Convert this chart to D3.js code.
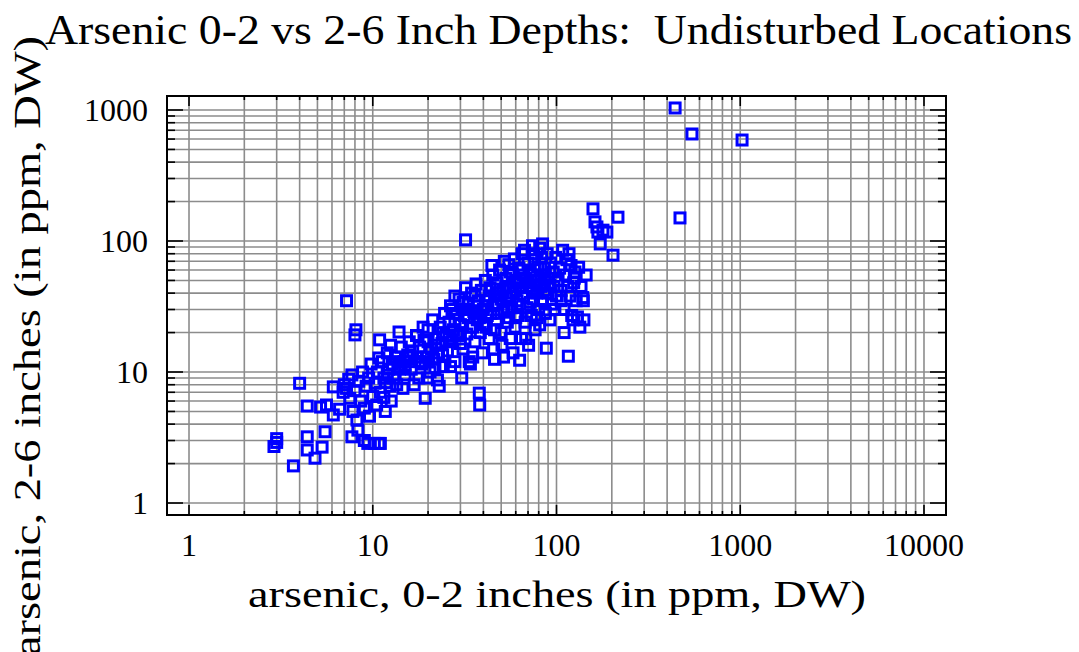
<!DOCTYPE html>
<html>
<head>
<meta charset="utf-8">
<script src="https://cdn.jsdelivr.net/npm/d3@7"></script>
<style>
  body { margin: 0; background: #fff; }
  text { font-family: "Times New Roman", "Liberation Serif", serif; }
</style>
</head>
<body>
<div id="chart"></div>
<script>
// arsenic pairs, 0-2 inch depth (x) vs 2-6 inch depth (y), ppm DW
var depth02 = [
  2.9, 3.0, 3.0, 3.7, 4.0, 4.4, 4.4, 4.4, 4.85, 5.3, 5.5, 5.2, 5.6, 6.1, 6.1, 7.7, 7.2, 8.0, 8.1,
  6.6, 6.9, 7.0, 7.2, 7.4, 7.5, 7.7, 7.8, 8.0, 8.2, 8.3, 8.4, 8.6, 8.8, 9.0, 9.0, 9.2, 9.4, 9.5, 9.6, 9.8, 10.0, 10.2, 10.3, 10.5, 10.8, 11.0, 10.6, 10.9,
  11.0, 11.3, 11.5, 11.7, 12.0, 12.2, 12.4, 12.6, 12.8, 13.0, 13.3, 13.5, 13.9, 14.0, 14.3, 14.6, 14.8, 15.0, 11.8, 12.5, 13.7, 10.8, 11.5,
  15.5, 15.8, 16.2, 16.5, 17.0, 17.3, 17.8, 18.0, 18.5, 19.0, 19.3, 19.6, 20.0, 20.5, 20.8, 21.2, 21.5, 22.0, 22.5, 22.8, 23.0, 23.3, 23.8, 24.2, 24.6, 25.0, 16.8, 18.8, 20.2, 21.8, 24.0, 17.5, 19.8,
  25.5, 26.0, 26.5, 27.0, 27.5, 28.0, 28.5, 29.0, 29.5, 30.0, 30.5, 31.0, 31.5, 32.0, 32.0, 32.5, 33.0, 33.5, 34.0, 34.5, 35.0, 35.5, 36.0, 36.5, 37.0, 37.5, 38.0, 38.2, 38.5, 39.0, 39.5, 40.0, 28.0, 30.0, 34.0, 36.0, 26.5, 32.0, 38.0,
  41, 41.5, 42, 43, 43.5, 44, 45, 45.5, 46, 47, 47.5, 48, 49, 50, 50.5, 51, 51.5, 52, 53, 53.5, 54, 55, 55.5, 56, 57, 57.5, 58, 59, 59.5, 60, 61, 62, 62.5, 63, 64, 64.5, 65, 42, 44.5, 46, 48, 52, 54, 56, 58, 60, 62, 46,
  66, 67, 67.5, 68, 69, 70, 70.5, 71, 72, 73, 74, 75, 76, 76.5, 77, 78, 79, 80, 81, 81, 82, 83, 84, 85, 86, 87, 88, 89, 90, 91, 93, 94, 96, 97, 99, 100, 68, 72, 78, 84, 92, 98, 75, 86,
  102, 104, 106, 108, 110, 112, 114, 116, 117, 118, 120, 121, 123, 124, 126, 128, 130, 132, 134, 136, 139, 141, 145, 110, 106, 115, 125, 140,
  22, 24, 26, 28, 30, 33, 35, 37, 40, 43, 45, 48, 50, 53, 56, 60, 63, 66, 70, 74, 78, 82, 87, 92, 14, 16, 18, 20, 12, 15, 27, 31, 36, 41, 47, 55, 65, 75,
  158, 162, 166, 168, 173, 179, 188, 203, 216,
  442, 470, 546, 1023
];
var depth26 = [
  2.7, 2.9, 3.1, 1.92, 8.2, 5.5, 3.2, 2.54, 2.2, 2.67, 3.5, 5.4, 5.6, 4.7, 7.7, 3.2, 35, 19.2, 21,
  5.2, 7.0, 8.0, 7.5, 8.8, 6.3, 9.5, 5.0, 7.2, 4.3, 3.6, 8.5, 6.0, 10.0, 5.3, 3.0, 7.8, 2.85, 9.0, 4.6, 11.5, 6.5, 2.85, 8.2, 5.6, 2.85, 2.85, 10.0, 17.6,
  7.0, 12.0, 9.0, 5.0, 14.0, 10.5, 7.8, 6.0, 11.5, 9.0, 13.0, 8.0, 20.2, 10.5, 15.5, 7.5, 12.0, 9.5, 8.3, 16.0, 11.0, 12.8, 6.4,
  13.5, 17.0, 10.5, 14.5, 12.0, 19.0, 9.0, 15.5, 11.5, 17.5, 6.3, 13.0, 21.0, 10.0, 15.0, 25.0, 12.5, 18.0, 8.7, 14.0, 7.8, 22.0, 16.5, 11.0, 28.0, 19.0, 8.0, 22.0, 12.0, 10.8, 13.5, 13.0, 9.0,
  14.5, 24.0, 32.0, 17.0, 21.0, 12.0, 28.0, 19.0, 36.0, 23.0, 9.0, 15.0, 27.0, 102.0, 44.0, 19.5, 33.0, 12.0, 22.0, 40.0, 13.0, 29.0, 17.0, 47.0, 25.0, 35.0, 6.9, 5.6, 20.0, 42.0, 14.0, 30.0, 38.0, 16.5, 11.5, 38.0, 11.0, 30.0, 26.0,
  50, 22, 35, 18, 44, 28, 55, 15, 38, 25, 48, 33, 60, 20, 16, 42, 13, 29, 52, 37, 24, 66, 45, 18, 31, 56, 40, 73, 22, 50, 35, 27, 62, 12.3, 44, 18, 80, 27, 65, 21, 40, 70, 30, 58, 14, 26, 48, 12.5,
  38, 85, 24, 52, 31, 68, 16, 45, 59, 27, 92, 36, 72, 21, 50, 40, 63, 30, 88, 22.9, 55, 75, 35, 46, 62, 28, 15.2, 80, 40, 52, 68, 33, 58, 45, 75, 38, 18, 34, 26, 95, 25, 30, 80, 42,
  50, 62, 42, 85, 30, 55, 72, 13.2, 80, 38, 65, 27, 25, 48, 58, 35, 26.3, 63, 22, 45, 37, 25, 55, 20, 35, 45, 52, 35,
  16, 20, 18, 25, 20, 26, 22, 32, 23, 38, 32, 28, 36, 44, 38, 42, 33, 55, 48, 42, 50, 45, 55, 46, 12, 13, 12, 17, 9.5, 11, 30, 34, 28, 32, 43, 26, 60, 55,
  176, 140, 128, 117, 95, 121, 117, 78, 152,
  1036, 150, 656, 590
];

var xTickLabels = [1, 10, 100, 1000, 10000];
var yTickLabels = [1, 10, 100, 1000];

var margin = {top: 96, right: 133, bottom: 137, left: 167};
var svg_width = 1079 - margin.left - margin.right;
var svg_height = 652 - margin.top - margin.bottom;

var svg = d3.select("#chart")
    .append("svg")
    .attr("width", 1079)
    .attr("height", 652);

var g = svg.append("g")
    .attr("transform", "translate(" + margin.left + "," + margin.top + ")");

// log scales, axis frame runs a little past the labelled decades
var xScale = d3.scaleLog()
    .domain([0.759, 13175])
    .range([0, svg_width]);

var yScale = d3.scaleLog()
    .domain([0.81, 1279])
    .range([svg_height, 0]);

// every 1..9 multiple within the labelled decades
function gridValues(top) {
    var vals = [];
    for (var d = 1; d < top; d *= 10) {
        for (var k = 1; k < 10; k++) vals.push(d * k);
    }
    vals.push(top);
    return vals;
}
var xGrid = gridValues(10000);
var yGrid = gridValues(1000);

// grid lines
g.selectAll(".vgrid")
    .data(xGrid)
    .enter()
    .append("line")
    .attr("x1", function(d) { return xScale(d); })
    .attr("x2", function(d) { return xScale(d); })
    .attr("y1", 0)
    .attr("y2", svg_height)
    .attr("stroke", "#8c8c8c")
    .attr("stroke-width", 1.6);

g.selectAll(".hgrid")
    .data(yGrid)
    .enter()
    .append("line")
    .attr("y1", function(d) { return yScale(d); })
    .attr("y2", function(d) { return yScale(d); })
    .attr("x1", 0)
    .attr("x2", svg_width)
    .attr("stroke", "#8c8c8c")
    .attr("stroke-width", 1.6);

function isMajor(d) {
    return Math.abs(Math.log10(d) - Math.round(Math.log10(d))) < 1e-9;
}

// inward ticks on all four sides
var ticks = g.append("g").attr("stroke", "#000").attr("stroke-width", 1.6);
xGrid.forEach(function(d) {
    var x = xScale(d);
    ticks.append("line").attr("x1", x).attr("x2", x)
        .attr("y1", 0).attr("y2", isMajor(d) ? 10 : 4);
    ticks.append("line").attr("x1", x).attr("x2", x)
        .attr("y1", svg_height).attr("y2", svg_height - (isMajor(d) ? 10 : 4));
});
yGrid.forEach(function(d) {
    var y = yScale(d);
    ticks.append("line").attr("y1", y).attr("y2", y)
        .attr("x1", 0).attr("x2", isMajor(d) ? 16 : 8);
    ticks.append("line").attr("y1", y).attr("y2", y)
        .attr("x1", svg_width).attr("x2", svg_width - (isMajor(d) ? 16 : 8));
});

// frame
g.append("rect")
    .attr("width", svg_width)
    .attr("height", svg_height)
    .attr("fill", "none")
    .attr("stroke", "#000")
    .attr("stroke-width", 2);

// tick labels
g.selectAll(".xlabel")
    .data(xTickLabels)
    .enter()
    .append("text")
    .attr("x", function(d) { return xScale(d); })
    .attr("y", svg_height + 41)
    .attr("text-anchor", "middle")
    .attr("font-size", "32px")
    .text(function(d) { return d; });

g.selectAll(".ylabel")
    .data(yTickLabels)
    .enter()
    .append("text")
    .attr("x", -19)
    .attr("y", function(d) { return yScale(d); })
    .attr("dy", "0.33em")
    .attr("text-anchor", "end")
    .attr("font-size", "32px")
    .text(function(d) { return d; });

// data points
g.selectAll(".pt")
    .data(depth02)
    .enter()
    .append("rect")
    .attr("x", function(d) { return xScale(d) - 5; })
    .attr("y", function(d, i) { return yScale(depth26[i]) - 5; })
    .attr("width", 10)
    .attr("height", 10)
    .attr("fill", "none")
    .attr("stroke", "#0000ff")
    .attr("stroke-width", 3);

// titles (wide bitmap-looking lettering, so stretch to the measured widths)
svg.append("text")
    .attr("x", 45)
    .attr("y", 44)
    .attr("font-size", "42px")
    .attr("textLength", 1027)
    .attr("lengthAdjust", "spacingAndGlyphs")
    .style("white-space", "pre")
    .text("Arsenic 0-2 vs 2-6 Inch Depths:  Undisturbed Locations");

svg.append("text")
    .attr("x", 248)
    .attr("y", 607)
    .attr("font-size", "38px")
    .attr("textLength", 618)
    .attr("lengthAdjust", "spacingAndGlyphs")
    .text("arsenic, 0-2 inches (in ppm, DW)");

svg.append("text")
    .attr("transform", "translate(40,656) rotate(-90)")
    .attr("font-size", "38px")
    .attr("textLength", 620)
    .attr("lengthAdjust", "spacingAndGlyphs")
    .text("arsenic, 2-6 inches (in ppm, DW)");
</script>
</body>
</html>
